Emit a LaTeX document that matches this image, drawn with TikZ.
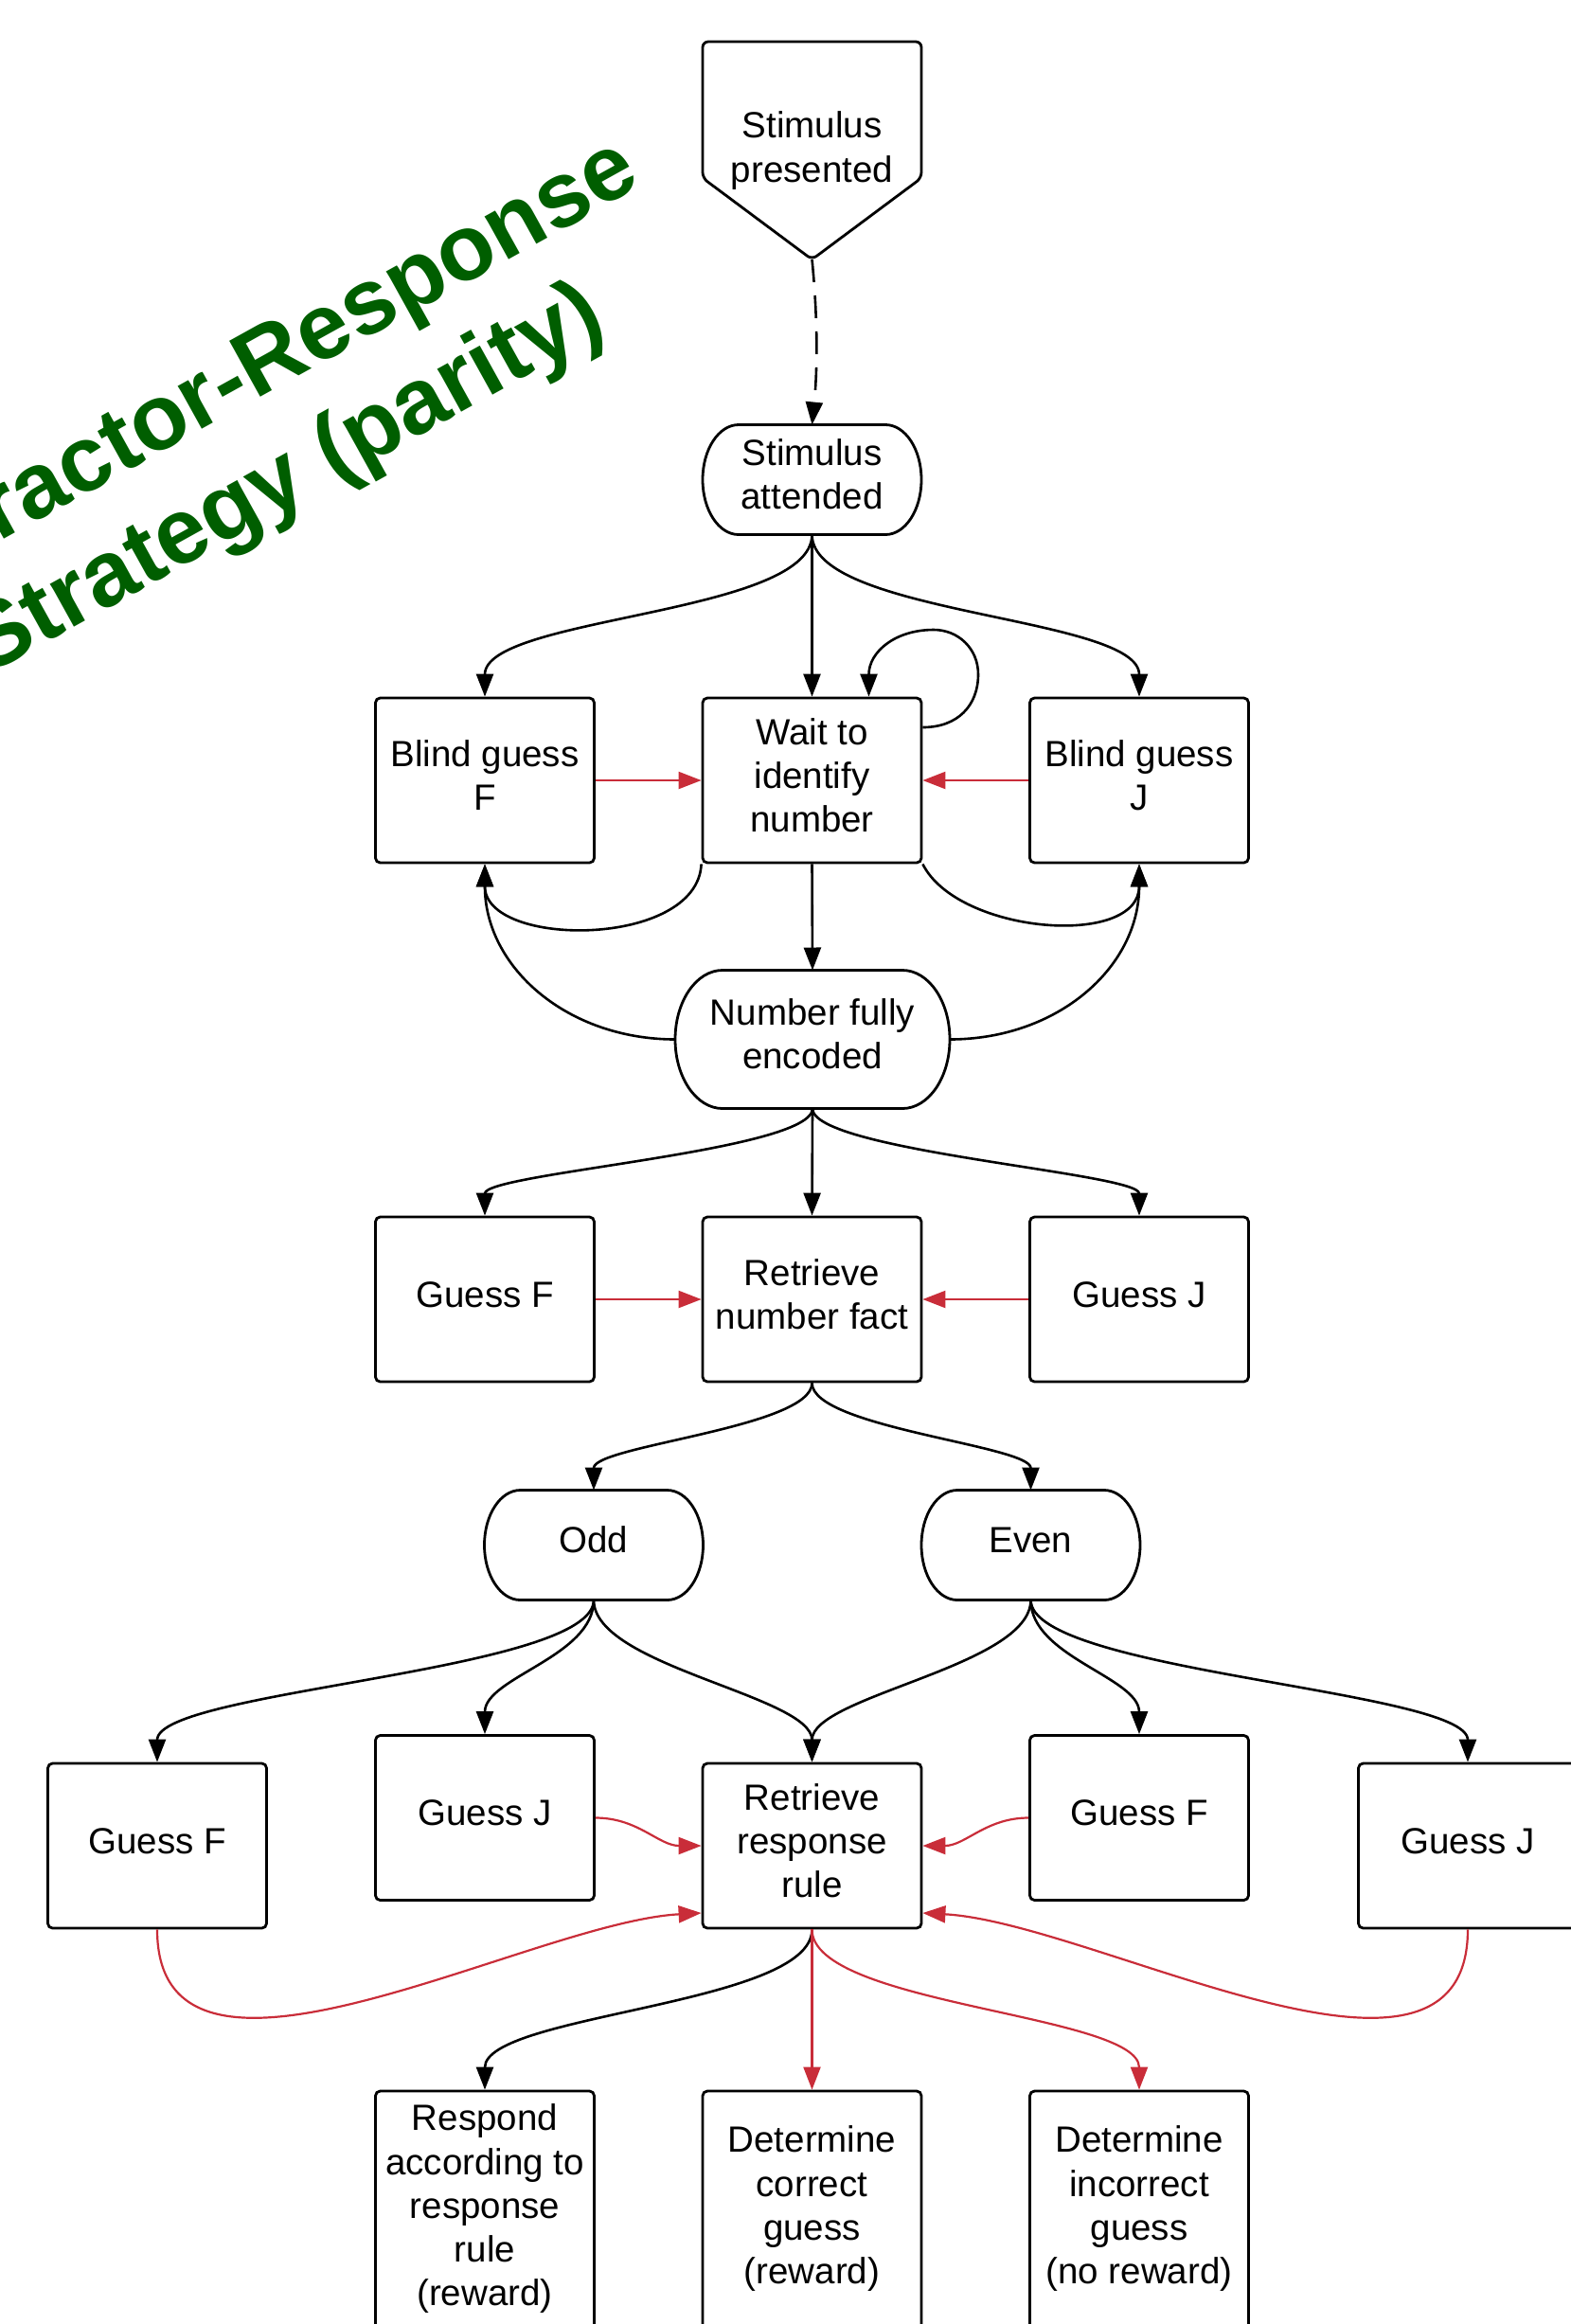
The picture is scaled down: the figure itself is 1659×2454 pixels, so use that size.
\documentclass[tikz,border=0pt]{standalone}
\usepackage{fontspec}
\setmainfont{Liberation Sans}
\usetikzlibrary{arrows.meta}
\definecolor{lred}{HTML}{C92D39}
\definecolor{tgreen}{HTML}{005E00}
\newcommand\ndfont{\fontsize{19.25pt}{23.1pt}\selectfont}
\newcommand\ntxt[1]{\raisebox{0.5pt}[\height][\depth]{\begin{tabular}{@{}c@{}}#1\end{tabular}}}
\newcommand\termoutline[3]{%
  \draw[outl] ([xshift=#2]#1.north west) -- ([xshift=-#2]#1.north east)
    arc[start angle=90,end angle=-90,x radius=#2,y radius=#3]
    -- ([xshift=#2]#1.south west)
    arc[start angle=270,end angle=90,x radius=#2,y radius=#3] -- cycle;}
\begin{document}
\begin{tikzpicture}[x=0.5pt,y=-0.5pt,
  outl/.style={line width=1.4pt},
  box/.style={draw, line width=1.4pt, rounded corners=2.5pt, minimum width=115.5pt, minimum height=87pt, inner sep=1pt, font=\ndfont},
  tallbox/.style={box, minimum height=126pt},
  term/.style={minimum width=115.5pt, minimum height=58pt, inner sep=1pt, outer sep=0pt, font=\ndfont},
  conn/.style={line width=1.3pt, -{Triangle[length=12pt,width=9pt]}},
  rconn/.style={conn, draw=lred, line width=1.1pt},
  ttl/.style={font=\fontsize{49pt}{58pt}\selectfont\bfseries, text=tgreen, rotate=29, anchor=base, inner sep=0pt}
]
\useasboundingbox (0,0) rectangle (1659,2454);
\clip (0,0) rectangle (1659,2454);

% title
\node[ttl] (t1) at (258,429) {Distractor-Response};
\node[ttl] (t2) at (315,531) {Strategy (parity)};

% nodes
\node[term, minimum height=115pt, align=center] (sp) at (857.5,159) {Stimulus\\presented};
\draw[outl, rounded corners=3pt] (sp.south) -- ([yshift=43pt]sp.south west) -- (sp.north west) -- (sp.north east) -- ([yshift=43pt]sp.south east) -- cycle;

\node[term] (sa) at (857.5,506.5) {\ntxt{Stimulus\\attended}};
\termoutline{sa}{19pt}{29pt}

\node[box] (bgf) at (512,824) {\ntxt{Blind guess\\F}};
\node[box] (wait) at (857.5,824) {\ntxt{Wait to\\identify\\number}};
\node[box] (bgj) at (1203,824) {\ntxt{Blind guess\\J}};

\node[term, minimum width=145pt, minimum height=73pt] (nfe) at (858,1097.5) {\ntxt{Number fully\\encoded}};
\termoutline{nfe}{25pt}{36.5pt}

\node[box] (gf3) at (512,1372) {\ntxt{Guess F}};
\node[box] (rnf) at (857.5,1372) {\ntxt{Retrieve\\number fact}};
\node[box] (gj3) at (1203,1372) {\ntxt{Guess J}};

\node[term] (odd) at (627,1631.5) {\ntxt{Odd}};
\termoutline{odd}{19pt}{29pt}
\node[term] (even) at (1088.5,1631.5) {\ntxt{Even}};
\termoutline{even}{19pt}{29pt}

\node[box] (gf5a) at (166,1949) {\ntxt{Guess F}};
\node[box] (gj5a) at (512,1919.5) {\ntxt{Guess J}};
\node[box] (rrr) at (857.5,1949) {\ntxt{Retrieve\\response\\rule}};
\node[box] (gf5b) at (1203,1919.5) {\ntxt{Guess F}};
\node[box] (gj5b) at (1550,1949) {\ntxt{Guess J}};

\node[tallbox] (resp) at (512,2334) {\ntxt{Respond\\according to\\response\\rule\\(reward)}};
\node[tallbox] (corr) at (857.5,2334) {\ntxt{Determine\\correct\\guess\\(reward)}};
\node[tallbox] (incorr) at (1203,2334) {\ntxt{Determine\\incorrect\\guess\\(no reward)}};

% loop waypoints
\coordinate (loopR) at (1033,712);
\coordinate (loopT) at (986,665);

% connectors
\draw[conn, dash pattern=on 12pt off 7pt] (sp.south) .. controls +(6,60) and +(6,-60) .. (sa.north);

\draw[conn] (sa.south) .. controls +(0,85) and +(0,-85) .. (bgf.north);
\draw[conn] (sa.south) -- (wait.north);
\draw[conn] (sa.south) .. controls +(0,85) and +(0,-85) .. (bgj.north);

\draw[conn] ([yshift=28pt]wait.east) .. controls +(37,0) and +(0,33) .. (loopR)
  .. controls +(0,-27) and +(26,0) .. (loopT)
  .. controls +(-41,0) and +(0,-47) .. ([xshift=30pt]wait.north);

\draw[rconn] (bgf.east) -- (wait.west);
\draw[rconn] (bgj.west) -- (wait.east);

\draw[conn] (wait.south west) .. controls +(-4,89) and +(0,89) .. (bgf.south);
\draw[conn] (wait.south east) .. controls +(37,74) and +(0,89) .. (bgj.south);
\draw[conn] (wait.south) -- (nfe.north);

\draw[conn] (nfe.west) .. controls +(-114,0) and +(0,109) .. (bgf.south);
\draw[conn] (nfe.east) .. controls +(114,0) and +(0,109) .. (bgj.south);

\draw[conn] (nfe.south) .. controls +(0,45) and +(0,-45) .. (gf3.north);
\draw[conn] (nfe.south) -- (rnf.north);
\draw[conn] (nfe.south) .. controls +(0,45) and +(0,-45) .. (gj3.north);

\draw[rconn] (gf3.east) -- (rnf.west);
\draw[rconn] (gj3.west) -- (rnf.east);

\draw[conn] (rnf.south) .. controls +(0,47) and +(0,-47) .. (odd.north);
\draw[conn] (rnf.south) .. controls +(0,47) and +(0,-47) .. (even.north);

\draw[conn] (odd.south) .. controls +(0,76) and +(0,-76) .. (gf5a.north);
\draw[conn] (odd.south) .. controls +(0,60) and +(0,-60) .. (gj5a.north);
\draw[conn] (odd.south) .. controls +(0,70) and +(0,-70) .. (rrr.north);
\draw[conn] (even.south) .. controls +(0,70) and +(0,-70) .. (rrr.north);
\draw[conn] (even.south) .. controls +(0,60) and +(0,-60) .. (gf5b.north);
\draw[conn] (even.south) .. controls +(0,76) and +(0,-76) .. (gj5b.north);

\draw[rconn] (gj5a.east) .. controls +(45,0) and +(-45,0) .. (rrr.west);
\draw[rconn] (gf5b.west) .. controls +(-45,0) and +(45,0) .. (rrr.east);
\draw[rconn] (gf5a.south) .. controls +(0,215) and +(-182,10) .. ([yshift=-35.5pt]rrr.west);
\draw[rconn] (gj5b.south) .. controls +(0,215) and +(182,10) .. ([yshift=-35.5pt]rrr.east);

\draw[conn] (rrr.south) .. controls +(0,80) and +(0,-80) .. (resp.north);
\draw[rconn] (rrr.south) -- (corr.north);
\draw[rconn] (rrr.south) .. controls +(0,80) and +(0,-80) .. (incorr.north);
\end{tikzpicture}
\end{document}
